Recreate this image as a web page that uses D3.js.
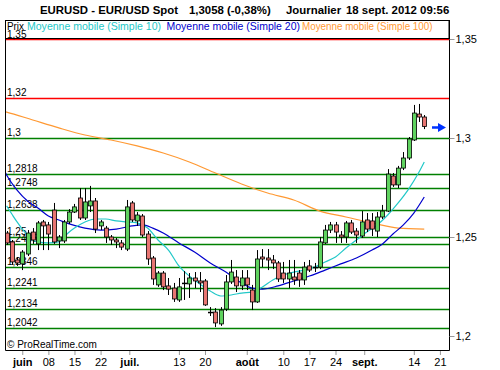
<!DOCTYPE html>
<html>
<head>
<meta charset="utf-8">
<script src="https://cdn.jsdelivr.net/npm/d3@7"></script>
<style>
  body { margin: 0; background: #fff; }
  text { font-family: "Liberation Sans", Arial, sans-serif; }
</style>
</head>
<body>
<script>
const svgWidth = 500
const svgHeight = 370

// trading days, 29 May -> 18 Sept 2012
const days = ["29/05","30/05","31/05","01/06","04/06","05/06","06/06","07/06","08/06",
  "11/06","12/06","13/06","14/06","15/06","18/06","19/06","20/06","21/06","22/06",
  "25/06","26/06","27/06","28/06","29/06","02/07","03/07","04/07","05/07","06/07",
  "09/07","10/07","11/07","12/07","13/07","16/07","17/07","18/07","19/07","20/07",
  "23/07","24/07","25/07","26/07","27/07","30/07","31/07","01/08","02/08","03/08",
  "06/08","07/08","08/08","09/08","10/08","13/08","14/08","15/08","16/08","17/08",
  "20/08","21/08","22/08","23/08","24/08","27/08","28/08","29/08","30/08","31/08",
  "03/09","04/09","05/09","06/09","07/09","10/09","11/09","12/09","13/09","14/09",
  "17/09","18/09"]

const open = [1.2520,1.2475,1.2384,1.2364,1.2414,1.2525,1.2465,1.2576,1.2561,
  1.2636,1.2480,1.2480,1.2576,1.2626,1.2697,1.2596,1.2657,1.2682,1.2556,
  1.2545,1.2500,1.2485,1.2470,1.2439,1.2672,1.2581,1.2606,1.2515,1.2394,
  1.2258,1.2318,1.2253,1.2242,1.2182,1.2268,1.2263,1.2293,1.2278,1.2278,
  1.2121,1.2121,1.2061,1.2136,1.2273,1.2298,1.2253,1.2293,1.2232,1.2172,
  1.2399,1.2394,1.2384,1.2369,1.2318,1.2288,1.2298,1.2318,1.2283,1.2354,
  1.2348,1.2348,1.2470,1.2535,1.2561,1.2510,1.2500,1.2571,1.2530,1.2505,
  1.2586,1.2581,1.2530,1.2601,1.2631,1.2808,1.2763,1.2848,1.2899,1.2990,
  1.3121,1.3106]
const high = [1.2530,1.2485,1.2399,1.2434,1.2535,1.2545,1.2581,1.2586,1.2576,
  1.2672,1.2510,1.2586,1.2641,1.2667,1.2747,1.2747,1.2758,1.2697,1.2586,
  1.2556,1.2510,1.2495,1.2485,1.2687,1.2682,1.2626,1.2616,1.2530,1.2404,
  1.2328,1.2328,1.2293,1.2268,1.2293,1.2328,1.2318,1.2323,1.2323,1.2288,
  1.2146,1.2141,1.2146,1.2308,1.2384,1.2333,1.2333,1.2333,1.2258,1.2434,
  1.2439,1.2439,1.2409,1.2379,1.2374,1.2384,1.2384,1.2333,1.2374,1.2384,
  1.2369,1.2500,1.2561,1.2576,1.2576,1.2530,1.2581,1.2586,1.2545,1.2631,
  1.2621,1.2621,1.2626,1.2662,1.2843,1.2823,1.2859,1.2929,1.3005,1.3167,
  1.3172,1.3116]
const low = [1.2460,1.2359,1.2354,1.2333,1.2404,1.2465,1.2434,1.2434,1.2434,
  1.2465,1.2444,1.2470,1.2566,1.2621,1.2586,1.2586,1.2626,1.2520,1.2535,
  1.2470,1.2460,1.2444,1.2434,1.2429,1.2576,1.2556,1.2500,1.2359,1.2258,
  1.2248,1.2232,1.2207,1.2172,1.2172,1.2182,1.2192,1.2242,1.2222,1.2152,
  1.2101,1.2045,1.2051,1.2126,1.2263,1.2222,1.2232,1.2232,1.2131,1.2167,
  1.2348,1.2333,1.2338,1.2273,1.2268,1.2242,1.2258,1.2248,1.2258,1.2323,
  1.2323,1.2338,1.2465,1.2520,1.2470,1.2470,1.2470,1.2515,1.2470,1.2495,
  1.2525,1.2505,1.2500,1.2591,1.2626,1.2753,1.2747,1.2838,1.2889,1.2985,
  1.3081,1.3045]
const close = [1.2470,1.2374,1.2369,1.2424,1.2520,1.2485,1.2571,1.2556,1.2515,
  1.2475,1.2500,1.2576,1.2626,1.2652,1.2596,1.2677,1.2682,1.2540,1.2576,
  1.2500,1.2485,1.2475,1.2449,1.2652,1.2586,1.2611,1.2510,1.2389,1.2288,
  1.2318,1.2248,1.2237,1.2187,1.2248,1.2263,1.2293,1.2278,1.2268,1.2157,
  1.2116,1.2066,1.2131,1.2273,1.2323,1.2253,1.2293,1.2258,1.2172,1.2389,
  1.2389,1.2384,1.2369,1.2288,1.2288,1.2318,1.2283,1.2283,1.2348,1.2333,
  1.2343,1.2475,1.2535,1.2561,1.2525,1.2500,1.2571,1.2525,1.2510,1.2576,
  1.2540,1.2540,1.2601,1.2631,1.2818,1.2763,1.2848,1.2899,1.2995,1.3126,
  1.3106,1.3058]

// moving averages: [day index, value]
const ma10 = [[0,1.2657],[1,1.2616],[2,1.2576],[3,1.2540],[4,1.2510],[5,1.2485],[6,1.2475],
  [8,1.2470],[10,1.2475],[11,1.2500],[12,1.2525],[13,1.2545],[15,1.2576],[17,1.2591],
  [19,1.2591],[21,1.2581],[23,1.2576],[25,1.2571],[27,1.2545],[29,1.2485],[31,1.2434],
  [33,1.2354],[35,1.2303],[37,1.2263],[39,1.2227],[41,1.2202],[43,1.2207],[45,1.2217],
  [47,1.2222],[49,1.2248],[51,1.2283],[53,1.2308],[55,1.2323],[57,1.2333],[59,1.2348],
  [61,1.2374],[63,1.2399],[65,1.2444],[67,1.2485],[69,1.2525],[71,1.2561],[73,1.2611],
  [75,1.2672],[77,1.2742],[79,1.2828],[80,1.2879]]
const ma20 = [[-0.3,1.2828],[0,1.2813],[2,1.2737],[4,1.2682],[6,1.2646],[8,1.2606],[10,1.2586],
  [12,1.2566],[15,1.2545],[18,1.2535],[21,1.2540],[24,1.2556],[26,1.2561],[28,1.2545],
  [30,1.2520],[33,1.2470],[36,1.2424],[39,1.2369],[42,1.2323],[45,1.2268],[47,1.2242],
  [49,1.2237],[52,1.2253],[55,1.2278],[58,1.2303],[61,1.2333],[64,1.2364],[67,1.2394],
  [70,1.2434],[72,1.2465],[74,1.2515],[76,1.2561],[78,1.2621],[80,1.2702]]
const ma100 = [[-0.3,1.3133],[0,1.3131],[5,1.3091],[10,1.3051],[15,1.3015],[20,1.2990],
  [25,1.2960],[30,1.2924],[35,1.2879],[40,1.2823],[45,1.2768],[50,1.2722],[55,1.2687],
  [60,1.2631],[65,1.2601],[70,1.2571],[75,1.2545],[80,1.2540]]

// horizontal levels
const redLevels = [1.35, 1.32]
const redLabels = ["1,35", "1,32"]
const greenLevels = [1.3, 1.2818, 1.2748, 1.2638, 1.25, 1.2465, 1.2346, 1.2241, 1.2134, 1.2042]
const greenLabels = ["1,3", "1,2818", "1,2748", "1,2638", "1,25", "1,2465", "1,2346", "1,2241", "1,2134", "1,2042"]

const priceTicks = [1.2, 1.25, 1.3, 1.35]
const dateTickPos = [3, 8, 13, 18, 23.5, 33, 38, 46, 53, 58, 63, 68.5, 78, 83]
const dateTickLabels = ["juin", "08", "15", "22", "juil.", "13", "20", "août", "10", "17", "24", "sept.", "14", "21"]

const legendNames = ["Prix", "Moyenne mobile (Simple 10)", "Moyenne mobile (Simple 20)", "Moyenne mobile (Simple 100)"]

const lastPrice = 1.3058

const colors = { ma10: "#22c8c8", ma20: "#0000cc", ma100: "#ff9933" }

const plot = { left: 5, right: 449, top: 20, bottom: 350 }

const svg = d3.select("body").append("svg")
    .attr("width", svgWidth)
    .attr("height", svgHeight)

const x = d3.scaleLinear()
    .domain([-0.31, 84.74])
    .range([plot.left, plot.right])

const y = d3.scaleLinear()
    .domain([1.2, 1.35])
    .range([336, 39])

svg.append("defs").append("clipPath").attr("id", "clip")
    .append("rect")
    .attr("x", plot.left).attr("y", 39)
    .attr("width", plot.right - plot.left).attr("height", plot.bottom - 39)

// title
const title = svg.append("g").attr("font-weight", "bold").attr("font-size", 11.4)
title.append("text").attr("x", 40).attr("y", 14).text("EURUSD - EUR/USD Spot")
title.append("text").attr("x", 189).attr("y", 14).text("1,3058 (-0,38%)")
title.append("text").attr("x", 286).attr("y", 14).text("Journalier")
title.append("text").attr("x", 346).attr("y", 14).text("18 sept. 2012 09:56")

// level lines
svg.selectAll(".green")
    .data(greenLevels)
    .enter().append("line")
    .attr("x1", plot.left).attr("x2", plot.right)
    .attr("y1", d => Math.round(y(d)) + 0.5)
    .attr("y2", d => Math.round(y(d)) + 0.5)
    .attr("stroke", "#008000")
    .attr("stroke-width", 1.5)

svg.selectAll(".red")
    .data(redLevels)
    .enter().append("line")
    .attr("x1", plot.left).attr("x2", plot.right)
    .attr("y1", d => Math.round(y(d)) + 0.5)
    .attr("y2", d => Math.round(y(d)) + 0.5)
    .attr("stroke", "#ff0000")
    .attr("stroke-width", 1.5)

const levelText = svg.append("g").attr("font-size", 10).attr("fill", "#000")
levelText.selectAll("text")
    .data(greenLevels.map((d, i) => [d, greenLabels[i]]).concat([[redLevels[1], redLabels[1]]]))
    .enter().append("text")
    .attr("x", 7)
    .attr("y", d => Math.round(y(d[0])) - 2)
    .text(d => d[1])

// moving averages
const line = d3.line()
    .x(d => x(d[0]))
    .y(d => y(d[1]))
    .curve(d3.curveMonotoneX)

const maG = svg.append("g").attr("clip-path", "url(#clip)")
maG.append("path").attr("d", line(ma100)).attr("fill", "none").attr("stroke", colors.ma100).attr("stroke-width", 1.2)
maG.append("path").attr("d", line(ma20)).attr("fill", "none").attr("stroke", colors.ma20).attr("stroke-width", 1.2)
maG.append("path").attr("d", line(ma10)).attr("fill", "none").attr("stroke", colors.ma10).attr("stroke-width", 1.2)

// candles
const candles = svg.append("g")
days.forEach((day, i) => {
    const cx = Math.round(x(i)) + 0.5
    candles.append("line")
        .attr("x1", cx).attr("x2", cx)
        .attr("y1", y(high[i])).attr("y2", y(low[i]))
        .attr("stroke", "#000")
    const top = y(Math.max(open[i], close[i]))
    const bot = y(Math.min(open[i], close[i]))
    if (bot - top < 1.5) {
        candles.append("line")
            .attr("x1", cx - 2.5).attr("x2", cx + 2.5)
            .attr("y1", (top + bot) / 2).attr("y2", (top + bot) / 2)
            .attr("stroke", "#000").attr("stroke-width", 1.5)
    } else {
        candles.append("rect")
            .attr("x", cx - 2).attr("y", top)
            .attr("width", 4).attr("height", bot - top)
            .attr("fill", close[i] >= open[i] ? "#5fd35f" : "#e87572")
            .attr("stroke", "#000").attr("stroke-width", 0.8)
    }
})

// last price arrow
const ay = Math.round(y(lastPrice)) + 0.5
svg.append("path")
    .attr("d", `M432,${ay - 1.2}H438V${ay - 4.5}L446,${ay}L438,${ay + 4.5}V${ay + 1.2}H432Z`)
    .attr("fill", "#0033ff")

// legend box
svg.append("rect")
    .attr("x", plot.left + 0.5).attr("y", plot.top + 0.5)
    .attr("width", plot.right - plot.left - 0.5).attr("height", 18)
    .attr("fill", "#fff").attr("stroke", "#000")

const legendX = [7, 27, 166.5, 302]
const legendW = [17, 134, 133.5, 130.5]
const legendC = ["#000", colors.ma10, colors.ma20, colors.ma100]
svg.append("g").attr("font-size", 10.4)
    .selectAll("text")
    .data(legendNames)
    .enter().append("text")
    .attr("x", (d, i) => legendX[i])
    .attr("y", 30)
    .attr("fill", (d, i) => legendC[i])
    .attr("textLength", (d, i) => legendW[i])
    .attr("lengthAdjust", "spacingAndGlyphs")
    .text(d => d)

// "1,35" label sits under the legend text
svg.append("text").attr("x", 7).attr("y", 37.5).attr("font-size", 10).text(redLabels[0])

// frame
svg.append("path")
    .attr("d", `M${plot.left + 0.5},${plot.top}V${plot.bottom + 0.5}H${plot.right + 0.5}V${plot.top}`)
    .attr("fill", "none").attr("stroke", "#000")

svg.append("text")
    .attr("x", 7).attr("y", 348)
    .attr("font-size", 10)
    .text("© ProRealTime.com")

// right price axis
const yAxis = d3.axisRight(y)
    .tickValues(priceTicks)
    .tickSize(5)
    .tickFormat(d => String(d).replace(".", ","))

const yAxisG = svg.append("g")
    .attr("transform", `translate(${plot.right + 0.5}, 0)`)
    .call(yAxis)
yAxisG.select(".domain").remove()
yAxisG.selectAll("line").attr("stroke", "#999")
yAxisG.selectAll("text").attr("font-size", 11).attr("font-family", "Liberation Sans, Arial").attr("fill", "#000").attr("x", 6)

// bottom date axis
const xAxis = d3.axisBottom(x)
    .tickValues(dateTickPos)
    .tickSize(4)
    .tickFormat((d, i) => dateTickLabels[i])

const xAxisG = svg.append("g")
    .attr("transform", `translate(0, ${plot.bottom + 1})`)
    .call(xAxis)
xAxisG.select(".domain").remove()
xAxisG.selectAll("line").attr("stroke", "#999")
xAxisG.selectAll("text")
    .attr("font-size", 11)
    .attr("font-family", "Liberation Sans, Arial")
    .attr("fill", "#000")
    .attr("y", 7)
    .attr("font-weight", (d, i) => /\d/.test(dateTickLabels[i]) ? "normal" : "bold")
</script>
</body>
</html>
